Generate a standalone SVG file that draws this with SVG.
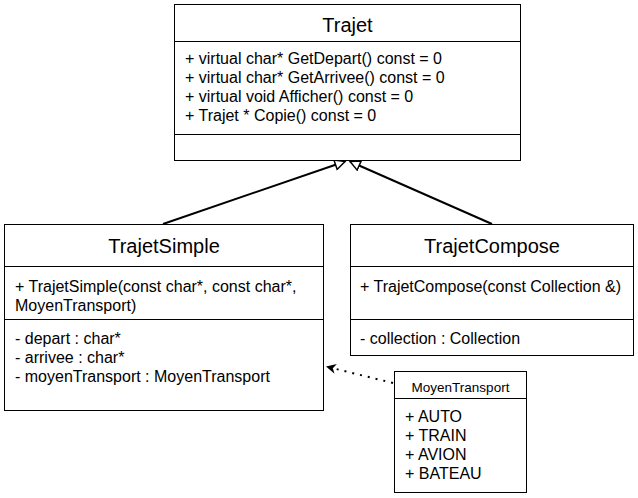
<svg xmlns="http://www.w3.org/2000/svg" width="638" height="498" viewBox="0 0 638 498">
<style>
.box{fill:#fff;stroke:#000;stroke-width:1}
.sep{stroke:#000;stroke-width:1}
.t{font-family:"Liberation Sans",Arial,sans-serif;fill:#000}
.title{font-size:20px;text-anchor:middle}
.m{font-size:16px}
.st{font-size:13.5px;text-anchor:middle}
.edge{stroke:#000;stroke-width:2;fill:none}
.dot{stroke:#000;stroke-width:2;fill:none;stroke-dasharray:2 6}
</style>
<defs>
<marker id="gen" markerWidth="14" markerHeight="12" refX="11" refY="6" orient="auto" markerUnits="userSpaceOnUse">
<path d="M1,1 L11,6 L1,11 Z" fill="#fff" stroke="#000" stroke-width="1.5"/>
</marker>
<marker id="dep" markerWidth="14" markerHeight="12" refX="11" refY="6" orient="auto" markerUnits="userSpaceOnUse">
<path d="M1,1 L11,6 L1,11 L4,6 Z" fill="#000"/>
</marker>
</defs>
<g id="connectors">
<line class="edge" x1="163" y1="224" x2="345" y2="161.5" marker-end="url(#gen)"/>
<line class="edge" x1="492" y1="224" x2="350" y2="161.5" marker-end="url(#gen)"/>
<line class="dot" x1="393" y1="383" x2="326" y2="366.5" marker-end="url(#dep)"/>
</g>
<g id="Trajet">
<rect class="box" x="174.5" y="4.5" width="346" height="156"/>
<line class="sep" x1="174.5" y1="41.5" x2="520.5" y2="41.5"/>
<line class="sep" x1="174.5" y1="134.5" x2="520.5" y2="134.5"/>
<text class="t title" x="347.5" y="32">Trajet</text>
<text class="t m" x="185" y="64">+ virtual char* GetDepart() const = 0</text>
<text class="t m" x="185" y="83">+ virtual char* GetArrivee() const = 0</text>
<text class="t m" x="185" y="102">+ virtual void Afficher() const = 0</text>
<text class="t m" x="185" y="121">+ Trajet * Copie() const = 0</text>
</g>
<g id="TrajetSimple">
<rect class="box" x="4.5" y="224.5" width="319" height="186"/>
<line class="sep" x1="4.5" y1="266.5" x2="323.5" y2="266.5"/>
<line class="sep" x1="4.5" y1="319.5" x2="323.5" y2="319.5"/>
<text class="t title" x="164" y="253">TrajetSimple</text>
<text class="t m" x="15" y="292">+ TrajetSimple(const char*, const char*,</text>
<text class="t m" x="15" y="311">MoyenTransport)</text>
<text class="t m" x="15" y="344">- depart : char*</text>
<text class="t m" x="15" y="363">- arrivee : char*</text>
<text class="t m" x="15" y="382">- moyenTransport : MoyenTransport</text>
</g>
<g id="TrajetCompose">
<rect class="box" x="350.5" y="224.5" width="283" height="131"/>
<line class="sep" x1="350.5" y1="266.5" x2="633.5" y2="266.5"/>
<line class="sep" x1="350.5" y1="319.5" x2="633.5" y2="319.5"/>
<text class="t title" x="492" y="253">TrajetCompose</text>
<text class="t m" x="360" y="292">+ TrajetCompose(const Collection &amp;)</text>
<text class="t m" x="360" y="344">- collection : Collection</text>
</g>
<g id="MoyenTransport">
<rect class="box" x="394.5" y="371.5" width="132" height="121"/>
<line class="sep" x1="394.5" y1="398.5" x2="526.5" y2="398.5"/>
<text class="t st" x="460.5" y="392">MoyenTransport</text>
<text class="t m" x="405" y="422">+ AUTO</text>
<text class="t m" x="405" y="441">+ TRAIN</text>
<text class="t m" x="405" y="460">+ AVION</text>
<text class="t m" x="405" y="479">+ BATEAU</text>
</g>
</svg>
